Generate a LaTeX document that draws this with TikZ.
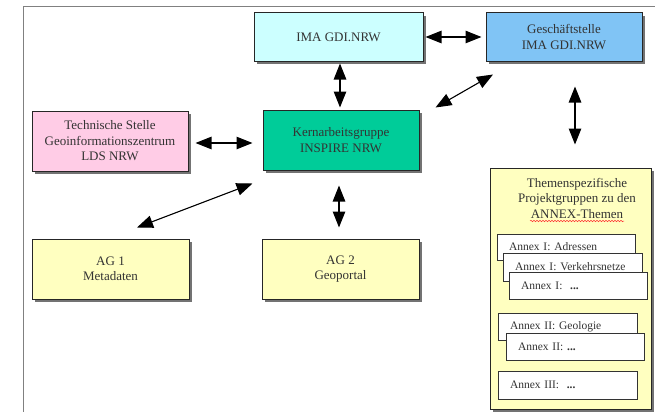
\documentclass[tikz,border=0pt]{standalone}
\usepackage{fontspec}
\setmainfont{Liberation Serif}
\usetikzlibrary{arrows.meta,shadows,decorations.pathmorphing}
\definecolor{imacol}{RGB}{204,255,255}
\definecolor{gescol}{RGB}{128,196,245}
\definecolor{techcol}{RGB}{255,204,230}
\definecolor{kerncol}{RGB}{0,204,153}
\definecolor{agcol}{RGB}{255,255,192}
\begin{document}
\begin{tikzpicture}[x=1pt,y=-1pt,
  box/.style={draw=black!85, line width=1pt, inner sep=0pt, align=center,
    text=black!80, font=\fontsize{13}{15.5}\selectfont,
    drop shadow={shadow xshift=3pt,shadow yshift=-3pt,fill=black!55,opacity=1}},
  annex/.style={draw=black!80, fill=white, line width=1pt, inner ysep=0pt,
    inner xsep=12pt, align=left, text=black!80, font=\fontsize{11.5}{13}\selectfont,
    drop shadow={shadow xshift=1.2pt,shadow yshift=-1.2pt,fill=black!40,opacity=1}},
  link/.style={line width=1.1pt,
    {Triangle[length=16pt,width=12.5pt]}-{Triangle[length=16pt,width=12.5pt]}}]
\useasboundingbox (0,0) rectangle (655,412);
\draw[black!50, line width=1pt] (655,7) -- (23,7) -- (23,412);

\node[box, fill=imacol, minimum width=169pt, minimum height=48pt] (ima) at (338.5,37) {IMA GDI.NRW};
\node[box, fill=gescol, minimum width=156pt, minimum height=48pt] (gesch) at (564,37) {Geschäftstelle\\IMA GDI.NRW};
\node[box, fill=techcol, minimum width=156pt, minimum height=60pt] (tech) at (110,141) {Technische Stelle\\Geoinformationszentrum\\LDS NRW};
\node[box, fill=kerncol, minimum width=156pt, minimum height=60pt] (kern) at (341,140) {Kernarbeitsgruppe\\INSPIRE NRW};
\node[box, fill=agcol, minimum width=157pt, minimum height=60pt] (ag1) at (110.5,269) {AG 1\\Metadaten};
\node[box, fill=agcol, minimum width=157pt, minimum height=60pt] (ag2) at (340.5,269) {AG 2\\Geoportal};
\node[box, fill=agcol, minimum width=161pt, minimum height=241pt] (them) at (570.5,288.5) {};
\node[align=center, inner sep=0pt, text=black!80, font=\fontsize{13}{15.5}\selectfont] (themtxt) at (577,198) {Themenspezifische\\Projektgruppen zu den\\ANNEX-Themen};
\draw[red!80, line width=0.5pt, decorate, decoration={snake, amplitude=0.7pt, segment length=3pt}] (530,221) -- (624,221);

\node[annex, text width=114pt, minimum height=26pt] (a1) at (566,247) {Annex I: Adressen};
\node[annex, text width=115pt, minimum height=28pt] (a2) at (572.5,267) {Annex I: Verkehrsnetze};
\node[annex, text width=114pt, minimum height=27pt] (a3) at (578,285.5) {Annex I:\ \ \textbf{...}};
\node[annex, text width=115pt, minimum height=27pt] (b1) at (567.5,326.5) {Annex II: Geologie};
\node[annex, text width=114pt, minimum height=27pt] (b2) at (575,346.5) {Annex II: \textbf{...}};
\node[annex, text width=115pt, minimum height=28pt] (c1) at (567.5,385) {Annex III:\ \ \textbf{...}};

\draw[link] ([xshift=1.5pt,yshift=-2pt]ima.south) -- ([xshift=-1pt,yshift=2pt]kern.north);
\draw[link] ([xshift=2pt]ima.east) -- ([xshift=-4pt]gesch.west);
\draw[link] ([xshift=-71pt,yshift=-13pt]gesch.south) -- ([xshift=16pt,yshift=2pt]kern.north east);
\draw[link] ([xshift=11pt,yshift=-25pt]gesch.south) -- ([xshift=4.5pt,yshift=23pt]them.north);
\draw[link] ([xshift=7pt,yshift=-2pt]tech.east) -- ([xshift=-10pt,yshift=-3pt]kern.west);
\draw[link] ([xshift=-10pt,yshift=-13pt]kern.south west) -- ([xshift=26.5pt,yshift=11pt]ag1.north);
\draw[link] ([xshift=-2pt,yshift=-15pt]kern.south) -- ([xshift=-1.5pt,yshift=11pt]ag2.north);
\end{tikzpicture}
\end{document}
